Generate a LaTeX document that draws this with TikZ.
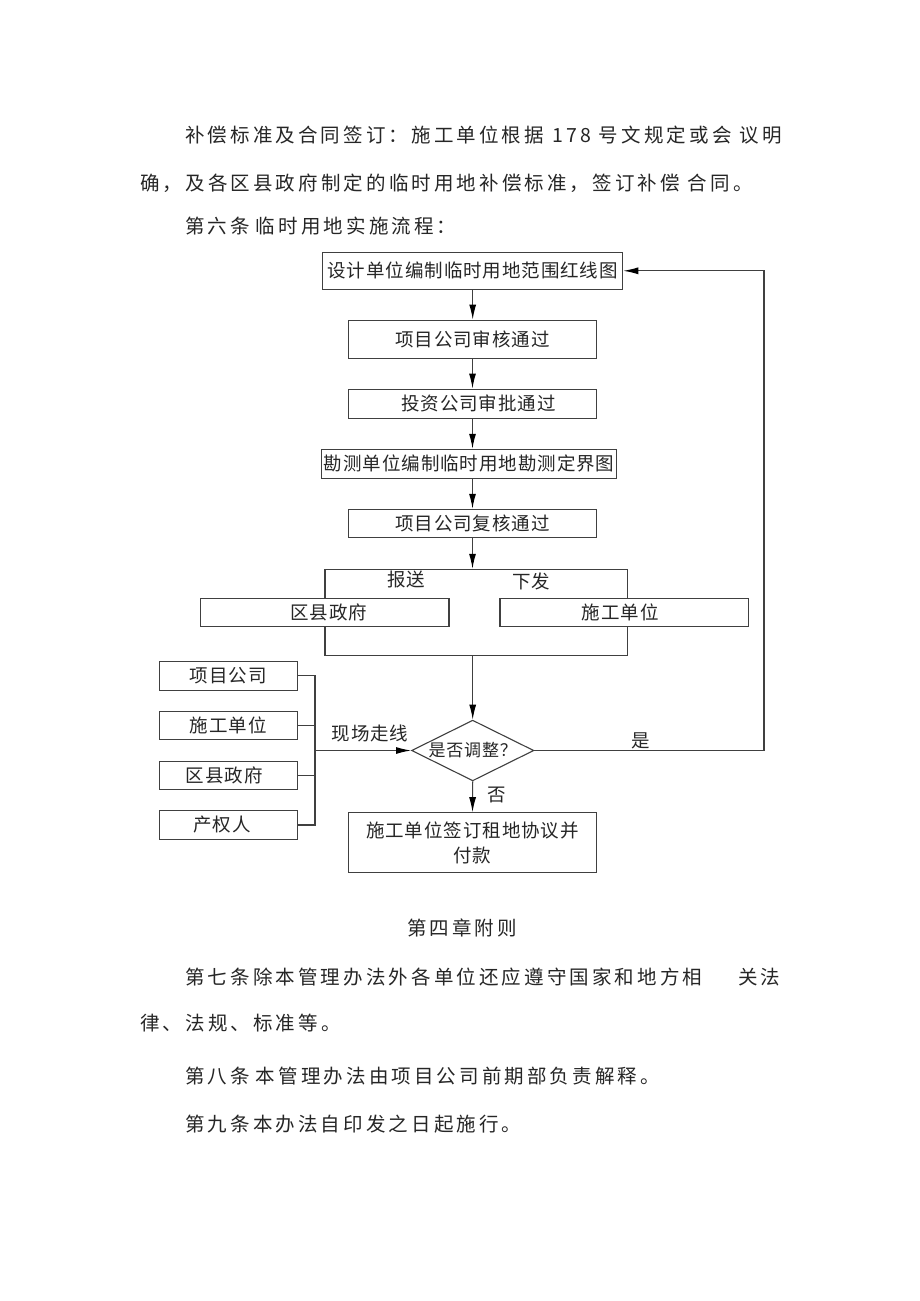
\documentclass[tikz,border=0pt]{standalone}
\usepackage{fontspec}
\usetikzlibrary{arrows.meta,shapes.geometric}
\newfontfamily\bdf{Noto Sans CJK SC}[LetterSpace=16]
\newfontfamily\fcf{Noto Sans CJK SC}[LetterSpace=5]
\begin{document}
\begin{tikzpicture}[x=1pt,y=-1pt,
  body/.style={anchor=west, inner sep=0, font=\bdf\fontsize{19.5}{24}\selectfont, text=black!85},
  box/.style={draw=black!75, line width=1.1pt, fill=white, rectangle, inner sep=0, font=\fcf\fontsize{18.5}{25}\selectfont, text=black!85},
  lbl/.style={inner sep=0, font=\fcf\fontsize{18.5}{22}\selectfont, text=black!85},
  ln/.style={draw=black!75, line width=1.1pt},
  arr/.style={ln, -{Latex[length=15pt,width=7pt,fill=black,color=black]}}]
\useasboundingbox (0,0) rectangle (920,1301);
\fill[white] (0,0) rectangle (920,1301);

% body text
\node[body] (t1) at (185,135) {补偿标准及合同签订：施工单位根据\makebox[55pt]{178}号文规定或会\hspace{8pt}议明};
\node[body] (t2) at (140,183) {确，及各区县政府制定的临时用地补偿标准，签订补偿\hspace{8pt}合同。};
\node[body] (t3) at (185,226) {第六条\hspace{6pt}临时用地实施流程：};

% flowchart
\node[box, minimum width=300, minimum height=37] (b1) at (472.7,270.8) {设计单位编制临时用地范围红线图};
\node[box, minimum width=248.4, minimum height=38.3] (b2) at (472.5,339.2) {项目公司审核通过};
\node[box, minimum width=248.4, minimum height=29.3] (b3) at (472.5,403.7) {\hspace{12pt}投资公司审批通过};
\node[box, minimum width=295, minimum height=29] (b4) at (469.2,463.8) {勘测单位编制临时用地勘测定界图};
\node[box, minimum width=248.4, minimum height=28.4] (b5) at (472.5,523.5) {项目公司复核通过};
\draw[arr] (b1.south) -- (b1.south |- b2.north);
\draw[arr] (b2.south) -- (b3.north);
\draw[arr] (b3.south) -- (b3.south |- b4.north);
\draw[arr] (b4.south -| b5.north) -- (b5.north);

\node[draw=black!75, line width=1.1pt, minimum width=302.3, minimum height=86.4, inner sep=0] (br) at (476.15,612.5) {};
\draw[arr] (b5.south) -- (b5.south |- br.north);
\node[box, minimum width=248.3, minimum height=28.4] (gov) at (324.85,612.5) {\hspace{8pt}区县政府};
\node[box, minimum width=248.3, minimum height=28.4] (con) at (624.15,612.5) {\hspace{-8pt}施工单位};
\node[lbl] (lsend) at (406,579.3) {报送};
\node[lbl] (lissue) at (531,581.7) {下发};

\node[diamond, draw=black!75, line width=1.1pt, minimum width=122.3, minimum height=60.7, inner sep=0] (dia) at (472.7,750.5) {};
\node[lbl, font=\fcf\fontsize{17}{20}\selectfont] (dq) at (dia.center) {是否调整？};
\draw[arr] (br.south -| dia.north) -- (dia.north);

\node[box, minimum width=248.4, minimum height=59.6, align=center] (fin) at (472.5,842.5) {施工单位签订租地协议并\\付款};
\draw[arr] (dia.south) -- (fin.north);
\node[lbl] (lno) at (496.7,795) {否};

\coordinate (fb) at (764,750.5);
\draw[arr] (dia.east) -- (fb) |- (b1.east);
\node[lbl] (lyes) at (641,740.7) {是};

\node[box, minimum width=137.7, minimum height=28.3] (pA) at (228.2,675.9) {项目公司};
\node[box, minimum width=137.7, minimum height=28.3] (pB) at (228.2,725.5) {施工单位};
\node[box, minimum width=137.7, minimum height=28.3] (pC) at (228.2,775.2) {\hspace{-8pt}区县政府};
\node[box, minimum width=137.7, minimum height=28.3] (pD) at (228.2,825) {\hspace{-12pt}产权人};
\coordinate (bt) at (315,675.9);
\coordinate (bb) at (315,825);
\coordinate (bm) at (315,750.5);
\draw[ln] (pA.east) -- (bt) -- (bb) -- (pD.east);
\draw[ln] (pB.east) -- (pB.east -| bt);
\draw[ln] (pC.east) -- (pC.east -| bt);
\draw[arr] (bm) -- (dia.west);
\node[lbl] (lwalk) at (370,733.3) {现场走线};

% closing text
\node[body, anchor=center] (t4) at (462,928) {第四章附则};
\node[body] (t5) at (185,977) {第七条除本管理办法外各单位还应遵守国家和地方相\hspace{36pt}关法};
\node[body] (t6) at (140,1023) {律、法规、标准等。};
\node[body] (t7) at (185,1076) {第八条\hspace{6pt}本管理办法由项目公司前期部负责解释。};
\node[body] (t8) at (185,1124) {第九条本办法自印发之日起施行。};
\end{tikzpicture}
\end{document}
